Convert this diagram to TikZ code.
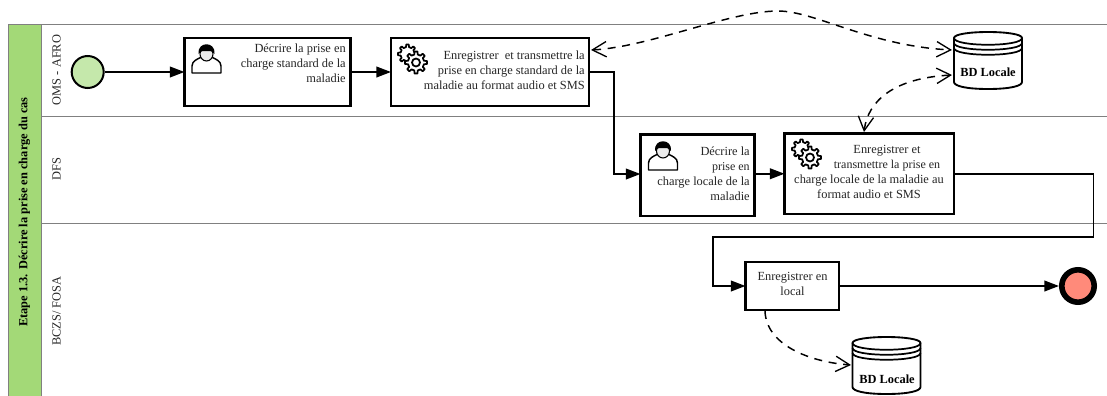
\documentclass[tikz,border=0pt]{standalone}
\usepackage{fontspec}
\setmainfont{Liberation Serif}
\usetikzlibrary{arrows.meta,calc}
\definecolor{headgreen}{HTML}{A3D977}
\definecolor{startgreen}{HTML}{C5E8AB}
\definecolor{endred}{HTML}{FF8A7A}
\definecolor{lanegray}{HTML}{808080}
\tikzset{
  x=0.75pt,y=-0.75pt,
  lane/.style={draw=lanegray,line width=0.75pt},
  taskbox/.style={draw=black,line width=1.6pt,fill=white,inner sep=0pt,outer sep=0pt},
  flow/.style={draw=black,line width=1.4pt,-{Triangle[length=11pt,width=8pt]}},
  assocline/.style={draw=black,line width=1.1pt,dash pattern=on 6pt off 5pt},
  barb/.tip={Straight Barb[length=10.5pt,width=11.5pt,line width=1pt]},
  txt/.style={font=\fontsize{9.3pt}{11.2pt}\selectfont,inner sep=0pt,text=black!85},
  lanelabel/.style={font=\fontsize{9.3pt}{11pt}\selectfont,rotate=90,inner sep=0pt,text=black!85},
}
\newcommand{\taskrect}[5]{\node[taskbox,anchor=north west,minimum width=#4*0.75pt,minimum height=#5*0.75pt] (#1) at (#2,#3) {};}
\newcommand{\personicon}[2]{%
 \begin{scope}[shift={(#1,#2)}]
  \draw[black,line width=1.1pt,fill=white,line join=round] (-14.5,25) -- (-14.5,18) .. controls (-14.5,13) and (-9,11) .. (-5,9) -- (5,9) .. controls (9,11) and (14.5,13) .. (14.5,18) -- (14.5,25) -- cycle;
  \draw[black,line width=0.8pt,fill=white!92!black] (0,6) ellipse (6.5 and 7);
  \fill[black] (-8,6) .. controls (-9.5,-7) and (9.5,-7) .. (8,6) .. controls (6,5) and (6,3) .. (4,3) -- (-4,3) .. controls (-6,3) and (-6,5) .. (-8,6) -- cycle;
 \end{scope}}
\newcommand{\onegear}[3]{%
 \begin{scope}[shift={(#1,#2)}]
  \draw[black,line width=1.3pt,line join=round,fill=white]
   (-12:{#3*0.74*0.75pt})
   \foreach \a in {0,45,...,315}{
    -- (\a-12:{#3*0.74*0.75pt}) -- (\a-8:{#3*0.75pt}) -- (\a+8:{#3*0.75pt}) -- (\a+12:{#3*0.74*0.75pt}) -- (\a+33:{#3*0.74*0.75pt})
   } -- cycle;
 \end{scope}}
\newcommand{\gearicon}[2]{%
 \begin{scope}[shift={(#1,#2)}]
  \onegear{-5}{-5}{9.5}
  \onegear{3.5}{3.5}{11}
  \draw[black,line width=1.3pt,fill=white] (3.5,3.5) circle (4);
 \end{scope}}
\newcommand{\dbshape}[2]{%
 \begin{scope}[shift={(#1,#2)}]
  \draw[black,line width=1.4pt,fill=white] (-34,-14) .. controls (-34,-22) and (34,-22) .. (34,-14) -- (34,30) .. controls (34,34) and (22,37) .. (0,37) .. controls (-22,37) and (-34,34) .. (-34,30) -- cycle;
  \draw[black,line width=1.3pt] (-34,-14) .. controls (-34,-5) and (34,-5) .. (34,-14);
  \draw[black,line width=1.3pt] (-34,-9) .. controls (-34,0) and (34,0) .. (34,-9);
  \draw[black,line width=1.3pt] (-34,-4) .. controls (-34,5) and (34,5) .. (34,-4);
 \end{scope}}
\begin{document}
\begin{tikzpicture}
\useasboundingbox (0,0) rectangle (1107,396);
% pool
\fill[headgreen] (8,24) rectangle (41,396);
\draw[lane] (8,396) -- (8,24) -- (1107,24);
\draw[lane] (41,24) -- (41,396);
\draw[lane] (41,116) -- (1107,116);
\draw[lane] (41,223) -- (1107,223);
\node[font=\fontsize{9.3pt}{11pt}\selectfont\bfseries,rotate=90,inner sep=0pt] (pooltitle) at (24.5,212) {Etape 1.3. Décrire la prise en charge du cas};
\node[lanelabel] (lane1) at (56.5,70) {OMS - AFRO};
\node[lanelabel] (lane2) at (56.5,169) {DFS};
\node[lanelabel] (lane3) at (56.5,311) {BCZS/ FOSA};
% events
\node[draw=black,line width=1.5pt,fill=startgreen,circle,minimum size=24pt,inner sep=0pt] (start) at (87.7,72) {};
\node[draw=black,line width=4.2pt,fill=endred,circle,minimum size=24.3pt,inner sep=0pt] (end) at (1078,286) {};
% tasks
\taskrect{t1}{184.5}{38}{166}{68}
\taskrect{t2}{391}{38}{198}{68}
\taskrect{t3}{640.5}{134.5}{114}{81.5}
\taskrect{t4}{784.5}{133.5}{169.5}{80.5}
\taskrect{t5}{745.5}{262}{93.5}{48}
\personicon{206.5}{48}
\gearicon{412.5}{59}
\personicon{663}{145}
\gearicon{806.5}{154}
\node[txt,align=right,anchor=north east] (t1text) at (346,44) {Décrire la prise en\\charge standard de la\\maladie};
\node[txt,align=right,anchor=north east] (t2text) at (585,50.5) {Enregistrer\ \ et transmettre la\\prise en charge standard de la\\maladie au format audio et SMS};
\node[txt,align=right,anchor=north east] (t3text) at (750,147) {Décrire la\\{\fontsize{9pt}{11.2pt}\selectfont prise en}\\charge locale de la\\maladie};
\node[txt,anchor=base] (t4l1) at (887,153.5) {Enregistrer et};
\node[txt,anchor=base,font=\fontsize{9pt}{11pt}\selectfont] (t4l2) at (887,168.5) {transmettre la prise en};
\node[txt,anchor=base] (t4l3) at (869,183.5) {charge locale de la maladie au};
\node[txt,anchor=base] (t4l4) at (869,198.5) {format audio et SMS};
\node[txt,align=center,anchor=north] (t5text) at (792.5,272) {Enregistrer en\\local};
% databases
\dbshape{988}{52}
\node[font=\fontsize{9.3pt}{11pt}\selectfont\bfseries,inner sep=0pt] (db1text) at (988,72) {BD Locale};
\dbshape{886.5}{357}
\node[font=\fontsize{9.3pt}{11pt}\selectfont\bfseries,inner sep=0pt] (db2text) at (887,379.5) {BD Locale};
\coordinate (db1a) at (952,50);
\coordinate (db1b) at (952,75);
\coordinate (db2a) at (851,365);
\coordinate (t2a) at (591,50);
\coordinate (t4a) at (864,132);
\coordinate (t5a) at (765,311);
\coordinate (bendA) at (614,174);
\coordinate (bendB) at (1093.5,237);
\coordinate (bendC) at (713,237);
% flows
\draw[flow] (start) -- (start -| t1.west);
\draw[flow] (t1.east) -- (t2.west);
\draw[flow] (t2.east) -| (bendA) -- (t3.west |- bendA);
\draw[flow] (t3.east |- t4.east) -- (t4.west);
\draw[flow] (t4.east) -| (bendB) -- (bendC) |- (t5.west);
\draw[flow] (t5.east) -- (end);
% associations
\draw[assocline,barb-barb] (t2a) .. controls (650,47) and (730,11) .. (778,11) .. controls (815,11) and (870,46) .. (db1a);
\draw[assocline,barb-barb] (t4a) .. controls (868,100) and (895,78) .. (db1b);
\draw[assocline,-barb] (t5a) .. controls (766,345) and (810,362) .. (db2a);
\end{tikzpicture}
\end{document}
